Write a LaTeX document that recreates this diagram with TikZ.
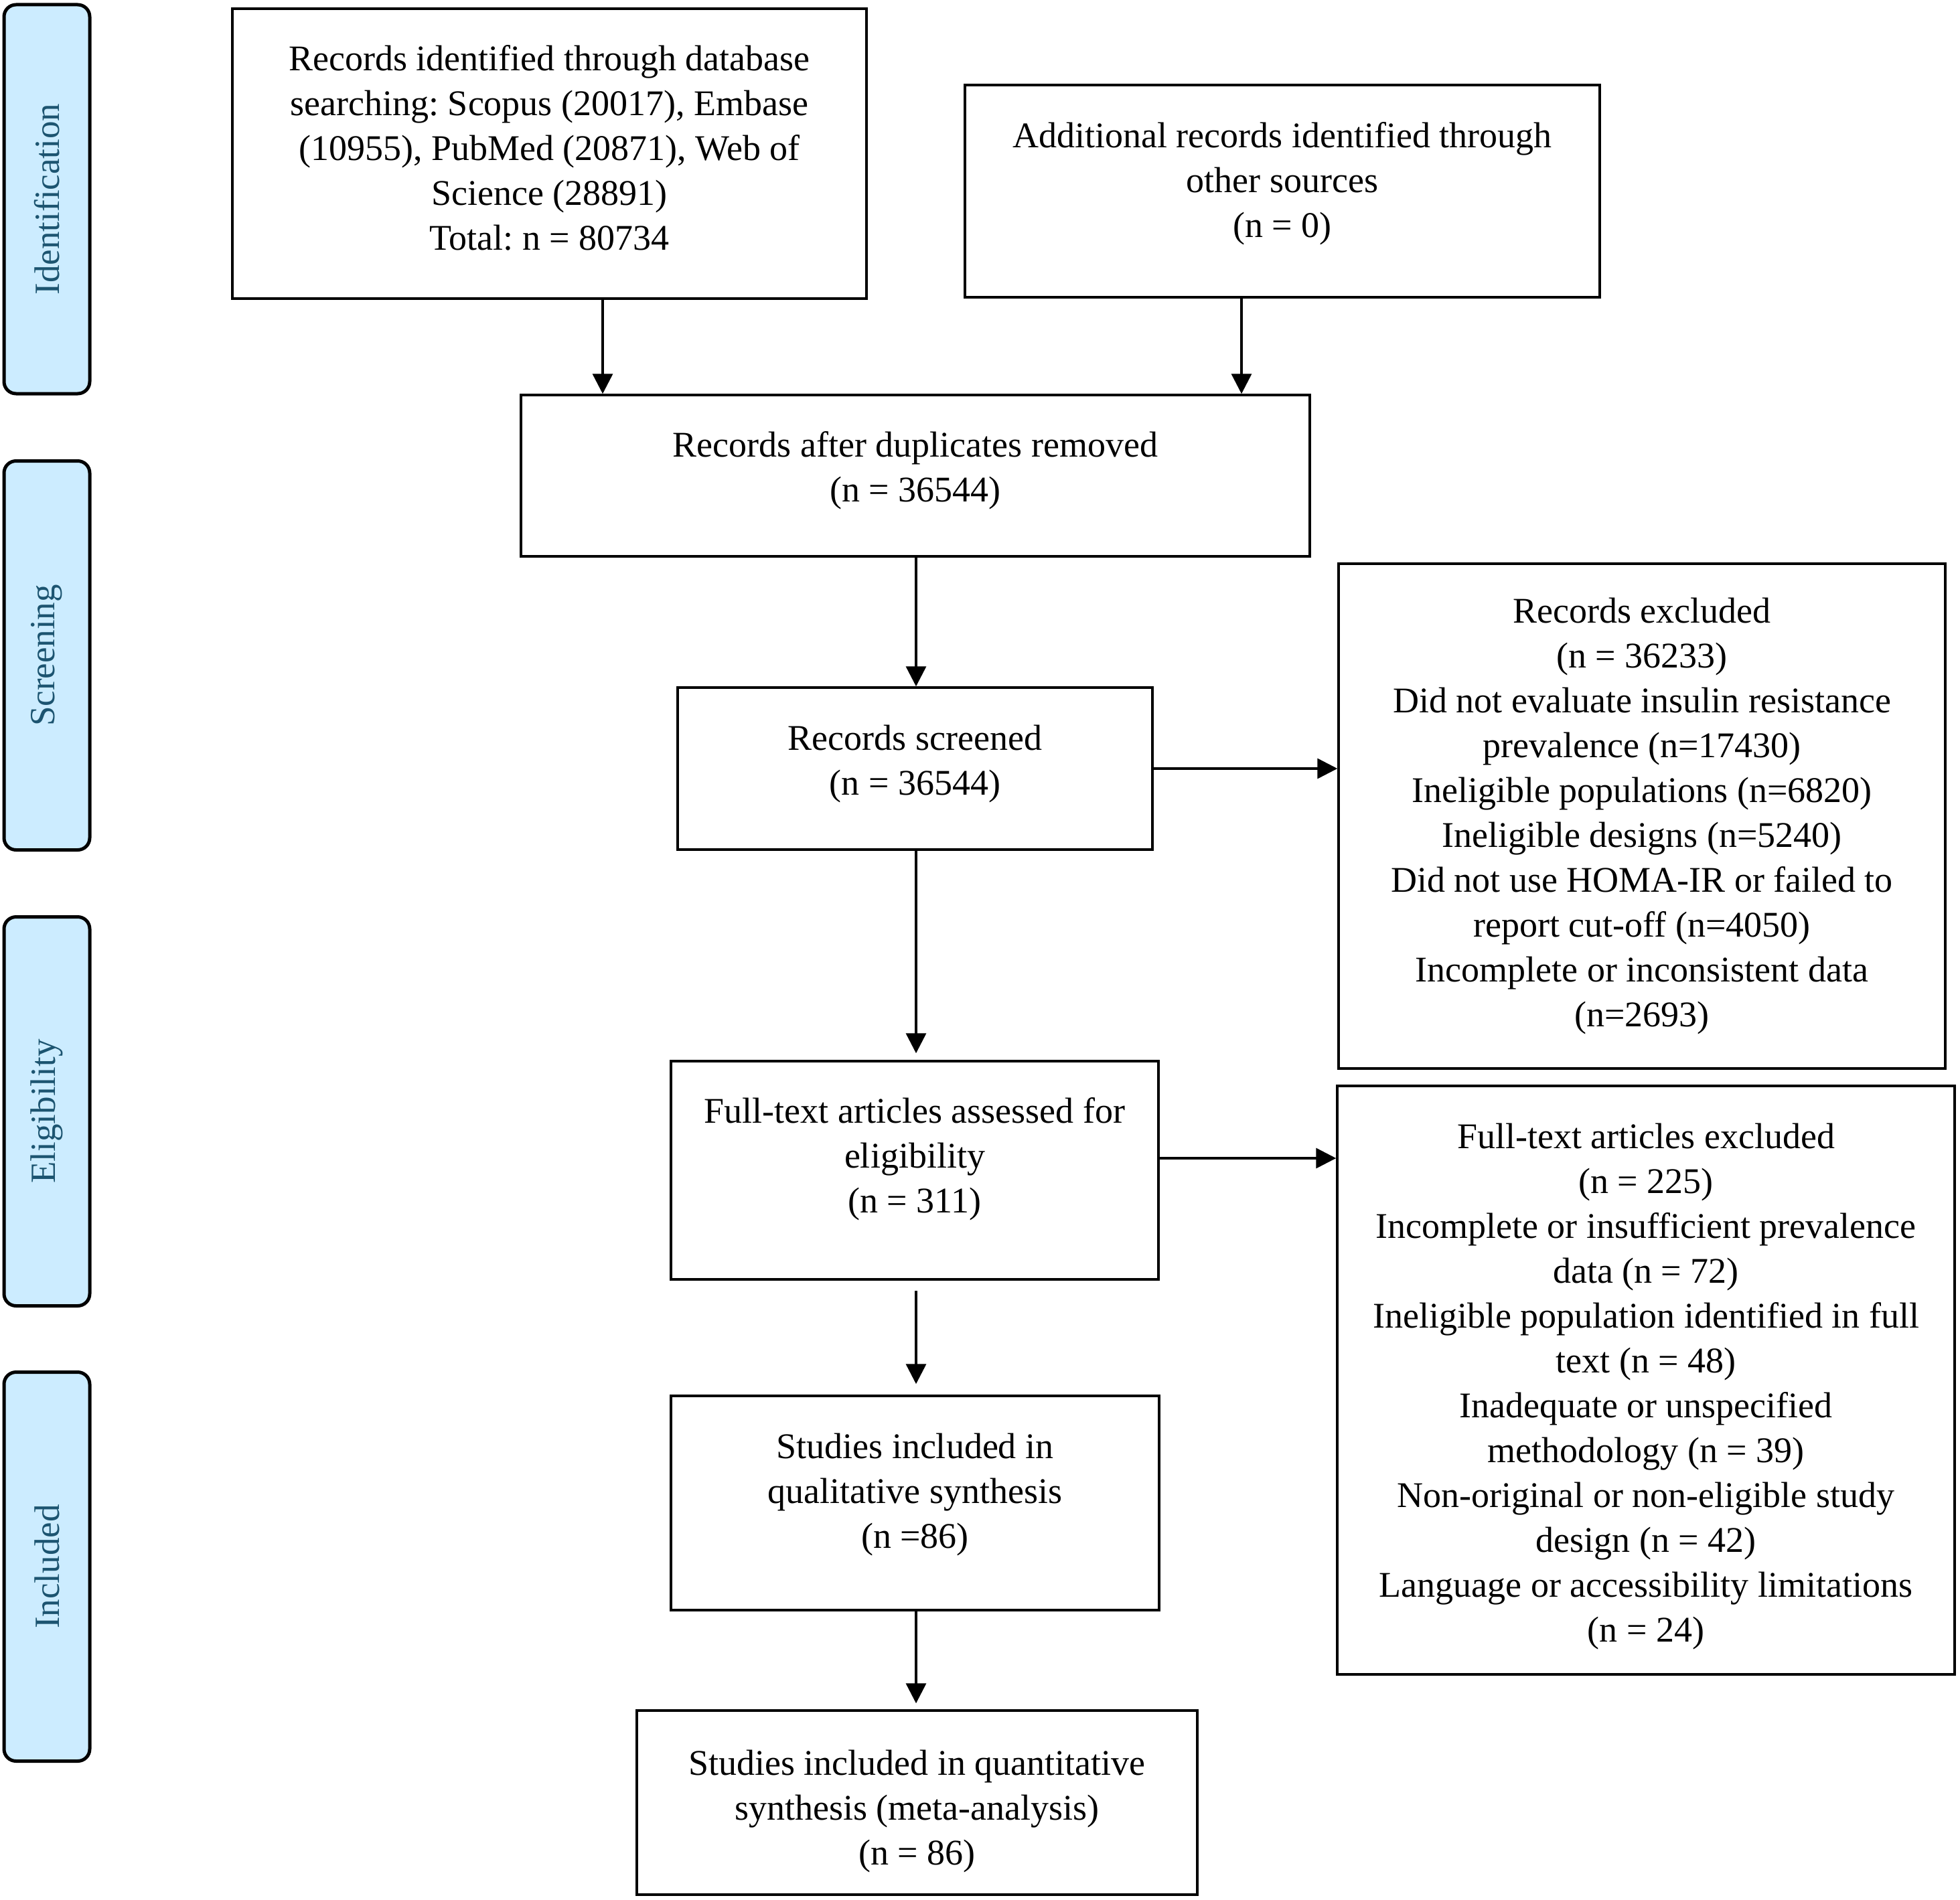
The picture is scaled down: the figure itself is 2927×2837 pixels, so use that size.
\documentclass[tikz,border=0pt]{standalone}
\usepackage{fontspec}
\setmainfont{Liberation Serif}
\usetikzlibrary{arrows.meta}
\definecolor{sidefill}{RGB}{204,236,255}
\definecolor{sidetext}{RGB}{28,84,112}
\frenchspacing
\begin{document}
\begin{tikzpicture}[x=1pt,y=-1pt,
  box/.style={draw, rectangle, line width=3.5pt, inner sep=0pt},
  txt/.style={align=center, inner sep=0pt, font=\fontsize{54}{67}\selectfont},
  side/.style={draw, rectangle, line width=5pt, fill=sidefill, rounded corners=18pt,
    text=sidetext, rotate=90, minimum height=128pt, minimum width=581pt,
    inner sep=0pt, font=\fontsize{53}{60}\selectfont},
  arr/.style={line width=3.5pt, -{Triangle[length=30pt,width=30pt]}}]
\useasboundingbox (0,0) rectangle (2927,2837);

% phase labels
\node[side] (s1) at (70,297.5) {Identification};
\node[side] (s2) at (70,979) {Screening};
\node[side] (s3) at (70,1660) {Eligibility};
\node[side] (s4) at (70,2340) {Included};

% boxes
\node[box, minimum width=947pt, minimum height=433pt] (b1) at (820.5,229.5) {};
\node[txt] (t1) at ([yshift=9pt]b1.center)
  {Records identified through database\\ searching: Scopus (20017), Embase\\ (10955), PubMed (20871), Web of\\ Science (28891)\\ Total: n = 80734};
\node[box, minimum width=948pt, minimum height=317pt] (b2) at (1915,285.5) {};
\node[txt] (t2) at ([yshift=11pt]b2.center)
  {Additional records identified through\\ other sources\\ (n = 0)};
\node[box, minimum width=1178pt, minimum height=241pt] (b3) at (1367,710.5) {};
\node[txt] (t3) at ([yshift=8pt]b3.center)
  {Records after duplicates removed\\ (n = 36544)};
\node[box, minimum width=709pt, minimum height=242pt] (b4) at (1366.5,1148) {};
\node[txt] (t4) at ([yshift=7.5pt]b4.center)
  {Records screened\\ (n = 36544)};
\node[box, minimum width=906pt, minimum height=754pt] (b5) at (2452,1219) {};
\node[txt] (t5) at (b5.center)
  {Records excluded\\ (n = 36233)\\ Did not evaluate insulin resistance\\ prevalence (n=17430)\\ Ineligible populations (n=6820)\\ Ineligible designs (n=5240)\\ Did not use HOMA-IR or failed to\\ report cut-off (n=4050)\\ Incomplete or inconsistent data\\ (n=2693)};
\node[box, minimum width=728pt, minimum height=326pt] (b6) at (1366,1748) {};
\node[txt] (t6) at ([yshift=17pt]b6.center)
  {Full-text articles assessed for\\ eligibility\\ (n = 311)};
\node[box, minimum width=922pt, minimum height=879pt] (b7) at (2458,2061.5) {};
\node[txt] (t7) at ([yshift=-9pt]b7.center)
  {Full-text articles excluded\\ (n = 225)\\ Incomplete or insufficient prevalence\\ data (n = 72)\\ Ineligible population identified in full\\ text (n = 48)\\ Inadequate or unspecified\\ methodology (n = 39)\\ Non-original or non-eligible study\\ design (n = 42)\\ Language or accessibility limitations\\ (n = 24)};
\node[box, minimum width=729pt, minimum height=320pt] (b8) at (1366.5,2245) {};
\node[txt] (t8) at ([yshift=13pt]b8.center)
  {Studies included in\\ qualitative synthesis\\ (n =86)};
\node[box, minimum width=837pt, minimum height=275pt] (b9) at (1369.5,2692.5) {};
\node[txt] (t9) at ([yshift=-13pt]b9.center)
  {Studies included in quantitative\\ synthesis (meta-analysis)\\ (n = 86)};

% connectors
\coordinate (xa) at (900,0);
\coordinate (xb) at (1854,0);
\coordinate (xc) at (1368,0);
\coordinate (ya) at (0,1730);
\draw[arr] (xa |- b1.south) -- (xa |- b3.north);
\draw[arr] (xb |- b2.south) -- (xb |- b3.north);
\draw[arr] (xc |- b3.south) -- (xc |- b4.north);
\draw[arr, shorten >=10pt] (xc |- b4.south) -- (xc |- b6.north);
\draw[arr] (b4.east) -- (b4.east -| b5.west);
\draw[arr] (ya -| b6.east) -- (ya -| b7.west);
\draw[arr, shorten <=15pt, shorten >=16pt] (xc |- b6.south) -- (xc |- b8.north);
\draw[arr, shorten >=9pt] (xc |- b8.south) -- (xc |- b9.north);
\end{tikzpicture}
\end{document}
